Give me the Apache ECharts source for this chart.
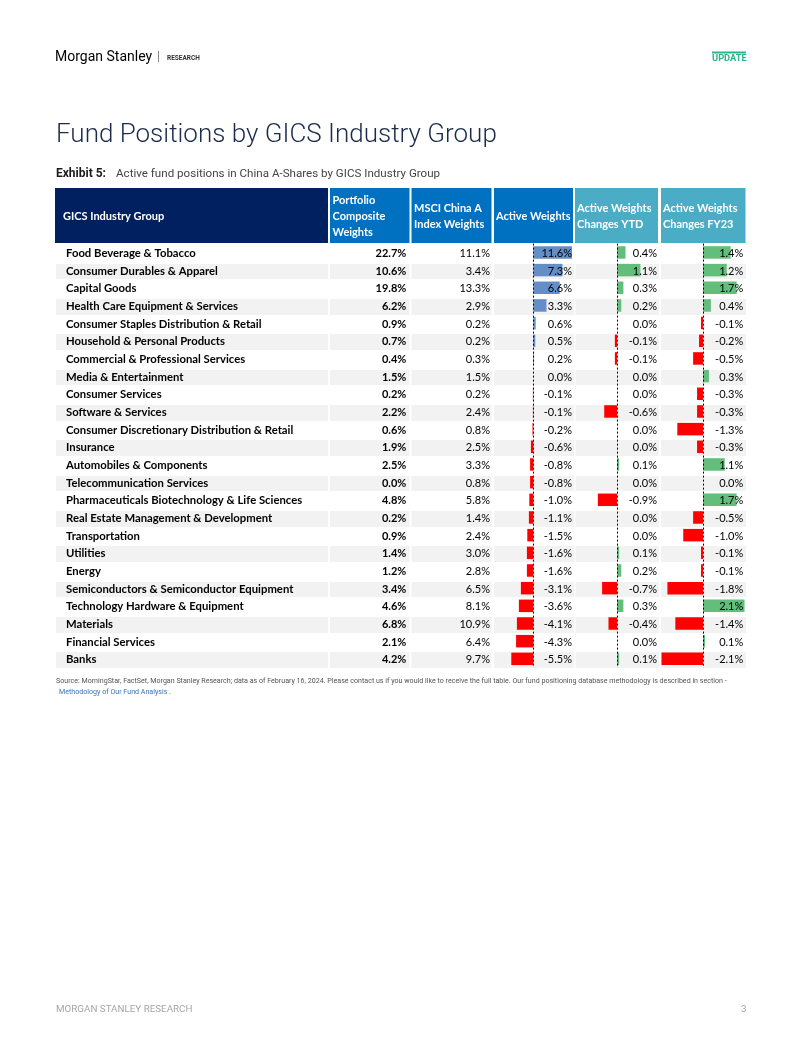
<!DOCTYPE html>
<html>
<head>
<meta charset="utf-8">
<script src="https://cdn.jsdelivr.net/npm/echarts@6/dist/echarts.min.js"></script>
<style>
html,body{margin:0;padding:0;background:#fff;}
#c{width:802px;height:1037px;}
</style>
</head>
<body>
<div id="c"></div>
<script>
// ---- data ----
const categories = [
  'Food Beverage & Tobacco',
  'Consumer Durables & Apparel',
  'Capital Goods',
  'Health Care Equipment & Services',
  'Consumer Staples Distribution & Retail',
  'Household & Personal Products',
  'Commercial & Professional Services',
  'Media & Entertainment',
  'Consumer Services',
  'Software & Services',
  'Consumer Discretionary Distribution & Retail',
  'Insurance',
  'Automobiles & Components',
  'Telecommunication Services',
  'Pharmaceuticals Biotechnology & Life Sciences',
  'Real Estate Management & Development',
  'Transportation',
  'Utilities',
  'Energy',
  'Semiconductors & Semiconductor Equipment',
  'Technology Hardware & Equipment',
  'Materials',
  'Financial Services',
  'Banks'
];
const portfolioWeights = [22.7,10.6,19.8,6.2,0.9,0.7,0.4,1.5,0.2,2.2,0.6,1.9,2.5,0.0,4.8,0.2,0.9,1.4,1.2,3.4,4.6,6.8,2.1,4.2];
const msciWeights      = [11.1,3.4,13.3,2.9,0.2,0.2,0.3,1.5,0.2,2.4,0.8,2.5,3.3,0.8,5.8,1.4,2.4,3.0,2.8,6.5,8.1,10.9,6.4,9.7];
const activeWeights    = [11.6,7.3,6.6,3.3,0.6,0.5,0.2,0.0,-0.1,-0.1,-0.2,-0.6,-0.8,-0.8,-1.0,-1.1,-1.5,-1.6,-1.6,-3.1,-3.6,-4.1,-4.3,-5.5];
const changesYTD       = [0.4,1.1,0.3,0.2,0.0,-0.1,-0.1,0.0,0.0,-0.6,0.0,0.0,0.1,0.0,-0.9,0.0,0.0,0.1,0.2,-0.7,0.3,-0.4,0.0,0.1];
const changesFY23      = [1.4,1.2,1.7,0.4,-0.1,-0.2,-0.5,0.3,-0.3,-0.3,-1.3,-0.3,1.1,0.0,1.7,-0.5,-1.0,-0.1,-0.1,-1.8,2.1,-1.4,0.1,-2.1];

const headers = [
  'GICS Industry Group',
  'Portfolio\nComposite\nWeights',
  'MSCI China A\nIndex Weights',
  'Active Weights',
  'Active Weights\nChanges YTD',
  'Active Weights\nChanges FY23'
];

// ---- layout ----
const TF = 'Lato';
const rowTop = 244.6, rowH = 17.67, tableH = rowH * categories.length;
const cols = [
  {l:56,    r:328,   hl:55,  hr:328,   hc:'#002060', tx:63},
  {l:330,   r:409.5, hl:330, hr:409.5, hc:'#0070C0', tx:332.5},
  {l:411.5, r:491.5, hl:411.5, hr:491.5, hc:'#0070C0', tx:414},
  {l:494,   r:574,   hl:494, hr:573,   hc:'#0070C0', tx:496},
  {l:575.5, r:659,   hl:575, hr:658,   hc:'#4BACC6', tx:577},
  {l:661,   r:746,   hl:661, hr:745.5, hc:'#4BACC6', tx:663}
];
const valueCols = [null, portfolioWeights, msciWeights, activeWeights, changesYTD, changesFY23];
const labelMargins = [10, 3.2, 1.5, 2, 2, 2.7];
const barCols = [
  {data: activeWeights, l:494,   w:78, min:-9.825, max:9.675, pos:'#638EC6'},
  {data: changesYTD,    l:577,   w:80, min:-1.88,  max:1.88,  pos:'#63BE7B'},
  {data: changesFY23,   l:661.5, w:83, min:-2.1,   max:2.1,   pos:'#63BE7B'}
];
const fmt = v => v.toFixed(1) + '%';

const grid = [], xAxis = [], yAxis = [], series = [];
cols.forEach((c, i) => {
  grid.push({left: c.l, top: rowTop, width: c.r - c.l, height: tableH});
  xAxis.push({gridIndex: i, type: 'value', show: false});
  // background stripes
  yAxis.push({
    gridIndex: i, type: 'category', data: categories, inverse: true, position: 'left',
    axisLine: {show: false}, axisTick: {show: false, interval: 0},
    axisLabel: {show: false, interval: 0},
    splitArea: {show: true, interval: 0, areaStyle: {color: ['#ffffff', '#f2f2f2']}},
    splitLine: {show: true, interval: 0, lineStyle: {color: '#ffffff', width: 2}},
    z: 0
  });
  // text labels
  const arr = valueCols[i];
  yAxis.push({
    gridIndex: i, type: 'category', data: categories, inverse: true,
    position: i === 0 ? 'left' : 'right',
    axisLine: {show: false}, axisTick: {show: false}, splitLine: {show: false},
    axisLabel: {
      inside: true, margin: labelMargins[i], interval: 0,
      color: '#000', fontFamily: TF, fontSize: i === 0 ? 11.3 : 11,
      fontWeight: (i <= 1) ? 'bold' : 'normal',
      formatter: arr ? ((v, idx) => fmt(arr[idx])) : (v => v)
    },
    z: 10
  });
});
barCols.forEach((b, k) => {
  const gi = grid.length;
  grid.push({left: b.l, top: rowTop - 1, width: b.w, height: tableH});
  xAxis.push({gridIndex: gi, type: 'value', min: b.min, max: b.max, show: false});
  const yi = yAxis.length;
  yAxis.push({gridIndex: gi, type: 'category', data: categories, inverse: true, show: false});
  series.push({
    type: 'bar', xAxisIndex: gi, yAxisIndex: yi, data: b.data, barWidth: 12.5,
    clip: true, silent: true,
    itemStyle: {color: p => (p.value < 0 ? '#FF0000' : b.pos)},
    markLine: {
      silent: true, symbol: ['none', 'none'], label: {show: false}, animation: false,
      lineStyle: {color: '#000', type: [2, 2], width: 1},
      data: [{xAxis: 0}]
    },
    z: 3
  });
});

// header cells
const graphic = [];
cols.forEach((c, i) => {
  graphic.push({type: 'rect', shape: {x: c.hl, y: 188, width: c.hr - c.hl, height: 55}, style: {fill: c.hc}, z: 1});
  graphic.push({type: 'text', x: c.tx, y: 216, style: {
    text: headers[i], fill: '#fff', font: 'bold 11px ' + TF, lineHeight: 16,
    align: 'left', verticalAlign: 'middle'
  }, z: 2});
});
// page texts
graphic.push(
  {type: 'text', x: 55, y: 57, style: {text: 'Morgan Stanley', fill: '#000', font: '14px Roboto', verticalAlign: 'middle'}},
  {type: 'text', x: 157, y: 57, style: {text: '|', fill: '#777', font: '12px Roboto', verticalAlign: 'middle'}},
  {type: 'text', x: 167, y: 58, style: {text: 'RESEARCH', fill: '#333', font: 'bold 6.5px Roboto', verticalAlign: 'middle'}},
  {type: 'rect', shape: {x: 712, y: 51.5, width: 34, height: 2}, style: {fill: '#2EB38A'}},
  {type: 'text', x: 712, y: 59, style: {text: 'UPDATE', fill: '#2EB38A', font: 'bold 9.3px Roboto', verticalAlign: 'middle'}},
  {type: 'text', x: 56, y: 135, style: {text: 'Fund Positions by GICS Industry Group', fill: '#1A2B4C', font: '300 26px Roboto', verticalAlign: 'middle'}},
  {type: 'text', x: 56, y: 174, style: {text: 'Exhibit 5:', fill: '#1a1a1a', font: 'bold 12px Roboto', verticalAlign: 'middle'}},
  {type: 'text', x: 116, y: 174, style: {text: 'Active fund positions in China A-Shares by GICS Industry Group', fill: '#444', font: '11.6px Roboto', verticalAlign: 'middle'}},
  {type: 'text', x: 56, y: 681, style: {text: 'Source: MorningStar, FactSet, Morgan Stanley Research; data as of February 16, 2024. Please contact us if you would like to receive the full table. Our fund positioning database methodology is described in section -', fill: '#555', font: '7.1px Roboto', verticalAlign: 'middle'}},
  {type: 'text', x: 59, y: 692, style: {text: 'Methodology of Our Fund Analysis', fill: '#3C72B4', font: '7.1px Roboto', verticalAlign: 'middle'}},
  {type: 'text', x: 169, y: 692, style: {text: '.', fill: '#555', font: '7.1px Roboto', verticalAlign: 'middle'}},
  {type: 'text', x: 56, y: 1010, style: {text: 'MORGAN STANLEY RESEARCH', fill: '#A6A6A6', font: '9.8px Roboto', verticalAlign: 'middle'}},
  {type: 'text', x: 741, y: 1010, style: {text: '3', fill: '#A6A6A6', font: '9.8px Roboto', verticalAlign: 'middle'}}
);

const chart = echarts.init(document.getElementById('c'), null, {renderer: 'canvas'});
chart.setOption({
  backgroundColor: '#ffffff',
  animation: false,
  grid, xAxis, yAxis, series, graphic
});
</script>
</body>
</html>
